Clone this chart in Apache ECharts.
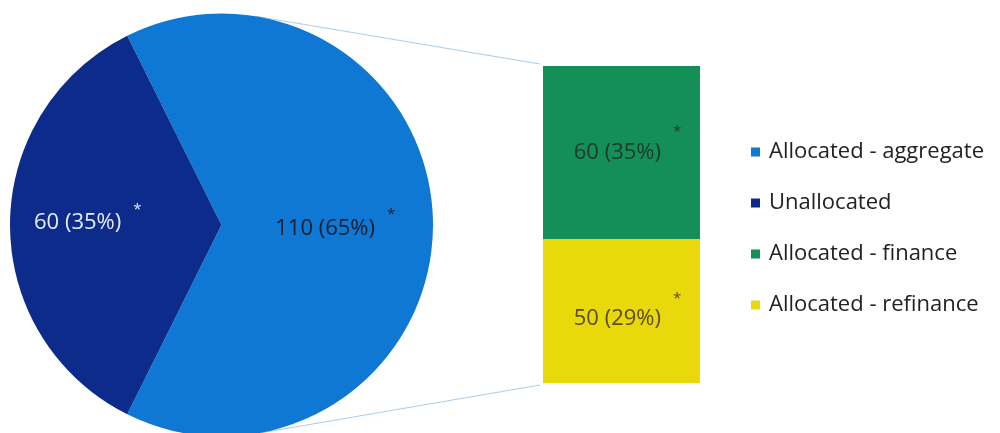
<!DOCTYPE html>
<html>
<head>
<meta charset="utf-8">
<script src="https://cdn.jsdelivr.net/npm/echarts@6/dist/echarts.min.js"></script>
<style>html,body{margin:0;padding:0;background:#fff}#c{width:1000px;height:433px}</style>
</head>
<body>
<div id="c"></div>
<script>
// Data
const pieNames = ['Allocated - aggregate', 'Unallocated'];
const pieValues = [110, 60];
const barNames = ['Allocated - finance', 'Allocated - refinance'];
const barValues = [60, 50];
const legendNames = ['Allocated - aggregate', 'Unallocated', 'Allocated - finance', 'Allocated - refinance'];

const colors = {
  'Allocated - aggregate': '#0f77d4',
  'Unallocated': '#0d2b8b',
  'Allocated - finance': '#148f58',
  'Allocated - refinance': '#e9d80c'
};
const FONT = '"Open Sans", sans-serif';
const total = pieValues.reduce((a, b) => a + b, 0);
const aggTotal = barValues.reduce((a, b) => a + b, 0);

const PIE_C = [221.5, 225], PIE_R = 211.5;
const startAngle = 180 * pieValues[0] / total; // aggregate slice centred on the right

const chart = echarts.init(document.getElementById('c'), null, {renderer: 'canvas'});

const pieLabelStyles = [
  {color: '#1b1f2e', offset: [5, 4], lineHeight: 44},
  {color: '#e6ecfa', offset: [-25, -2], lineHeight: 42}
];
const barLabelStyles = [
  {color: '#1e3a2c', offset: [6, 0]},
  {color: '#5e4c0c', offset: [6, 8]}
];

function mkRich(color, lh) {
  return {
    v: {fontFamily: FONT, fontSize: 22, color: color, lineHeight: lh},
    s: {fontFamily: FONT, fontSize: 15, color: color, verticalAlign: 'top', lineHeight: 15, padding: [0, 0, 0, 12]}
  };
}
const fmt = p => `{v|${p.value} (${Math.round(p.value / total * 100)}%)}{s|*}`;

const option = {
  animation: false,
  backgroundColor: '#fff',
  legend: {
    data: legendNames,
    orient: 'vertical',
    left: 746,
    top: 136,
    itemWidth: 9,
    itemHeight: 9,
    itemGap: 29,
    icon: 'rect',
    textStyle: {fontFamily: FONT, fontSize: 22, color: '#222', lineHeight: 21, padding: [0, 0, 0, 4]}
  },
  grid: {left: 543, top: 66, width: 157, height: 317},
  xAxis: {type: 'category', data: ['agg'], show: false},
  yAxis: {type: 'value', min: 0, max: aggTotal, show: false},
  series: [
    {
      type: 'pie',
      name: 'pie',
      center: PIE_C,
      radius: PIE_R,
      startAngle: startAngle,
      clockwise: true,
      silent: true,
      labelLine: {show: false},
      data: pieNames.map((n, i) => ({
        name: n,
        value: pieValues[i],
        itemStyle: {color: colors[n]},
        label: {
          show: true,
          position: 'inside',
          offset: pieLabelStyles[i].offset,
          formatter: fmt,
          rich: mkRich(pieLabelStyles[i].color, pieLabelStyles[i].lineHeight)
        }
      }))
    },
    ...barNames.slice().reverse().map((n) => {
      const idx = barNames.indexOf(n);
      return {
        type: 'bar',
        name: n,
        stack: 'agg',
        barWidth: '100%',
        itemStyle: {color: colors[n]},
        data: [barValues[idx]],
        label: {
          show: true,
          position: 'inside',
          offset: barLabelStyles[idx].offset,
          formatter: fmt,
          rich: mkRich(barLabelStyles[idx].color, 56)
        }
      };
    })
  ]
};
chart.setOption(option);

// Connector lines: tangents from bar corners to the pie circle
function tangent(P, upper) {
  const dx = P[0] - PIE_C[0], dy = P[1] - PIE_C[1];
  const d = Math.sqrt(dx * dx + dy * dy);
  const a = Math.atan2(dy, dx);
  const off = Math.acos(PIE_R / d);
  const t = upper ? a - off : a + off;
  return [PIE_C[0] + PIE_R * Math.cos(t), PIE_C[1] + PIE_R * Math.sin(t)];
}
const topCorner = chart.convertToPixel({gridIndex: 0}, ['agg', aggTotal]);
const botCorner = chart.convertToPixel({gridIndex: 0}, ['agg', 0]);
const halfW = 157 / 2;
const tl = [topCorner[0] - halfW - 3, topCorner[1] - 2];
const bl = [botCorner[0] - halfW - 3, botCorner[1] + 2];
const t1 = tangent(tl, true), t2 = tangent(bl, false);
chart.setOption({
  graphic: [
    {type: 'line', z: 0, shape: {x1: t1[0], y1: t1[1], x2: tl[0], y2: tl[1]}, style: {stroke: '#a9cdea', lineWidth: 1}},
    {type: 'line', z: 0, shape: {x1: t2[0], y1: t2[1], x2: bl[0], y2: bl[1]}, style: {stroke: '#a9cdea', lineWidth: 1}}
  ]
});
</script>
</body>
</html>
